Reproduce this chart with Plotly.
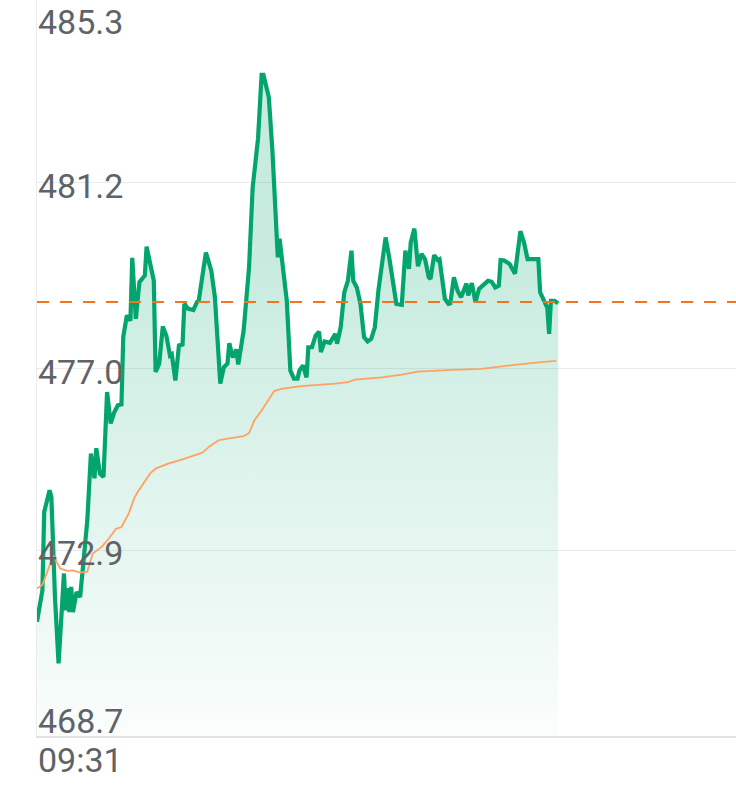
import plotly.graph_objects as go

# minutes after 09:31 and last price
price_minutes = [0, 3, 4, 7, 8, 10, 12, 15, 16, 17, 18, 19, 20, 22, 24, 26, 28, 30, 32, 33,
                 35, 37, 39, 41, 43, 45, 47, 48, 50, 52, 53, 55, 57, 60, 61, 65, 66, 68, 70, 72,
                 74, 75, 77, 79, 81, 82, 84, 87, 89, 90, 94, 97, 99, 102, 104, 106, 107, 109, 111, 112,
                 115, 118, 120, 123, 125, 126, 129, 131, 133, 134, 135, 137, 139, 141, 143, 145, 146, 148, 150, 151,
                 153, 155, 157, 158, 160, 163, 166, 167, 169, 171, 173, 175, 176, 178, 180, 182, 184, 186, 188, 190,
                 192, 194, 196, 198, 200, 203, 205, 207, 208, 210, 212, 214, 216, 218, 219, 221, 223, 224, 227, 229,
                 230, 232, 234, 236, 239, 240, 242, 244, 246, 248, 251, 253, 255, 257, 258, 260, 263, 266, 268, 269,
                 271, 273, 276, 279, 280, 282, 284, 285, 286, 288, 290]
prices = [471.28, 471.99, 473.76, 474.25, 474.10, 471.84, 470.34, 472.37, 471.54, 472.04, 471.50, 472.07, 471.50, 471.95, 471.84, 472.60, 473.57, 475.08, 474.52, 475.20,
          474.63, 474.55, 476.47, 475.76, 476.01, 476.17, 476.19, 477.71, 478.20, 478.08, 479.50, 478.12, 478.95, 479.10, 479.75, 478.98, 476.92, 477.11, 477.95, 477.74,
          477.29, 477.32, 476.73, 477.52, 477.54, 478.46, 478.35, 478.32, 478.50, 478.53, 479.62, 479.21, 478.61, 476.66, 477.03, 477.11, 477.57, 477.25, 477.43, 477.09,
          477.86, 479.28, 481.08, 482.19, 483.63, 483.63, 483.13, 481.92, 480.41, 479.51, 479.93, 479.28, 478.53, 476.95, 476.77, 476.77, 476.95, 477.07, 476.80, 477.48,
          477.48, 477.74, 477.83, 477.37, 477.61, 477.58, 477.78, 477.56, 477.93, 478.72, 478.98, 479.66, 478.98, 478.83, 478.46, 477.71, 477.61, 477.67, 477.93, 478.76,
          479.36, 479.96, 479.51, 478.98, 478.46, 478.44, 479.66, 479.25, 479.85, 480.16, 479.31, 479.59, 479.46, 479.06, 479.02, 479.56, 479.45, 479.47, 478.57, 478.46,
          478.47, 479.06, 478.76, 478.61, 478.92, 478.65, 478.93, 478.50, 478.80, 478.87, 478.98, 478.96, 478.83, 478.87, 479.45, 479.44, 479.36, 479.14, 479.77, 480.10,
          479.85, 479.47, 479.47, 479.47, 478.72, 478.53, 478.37, 477.78, 478.53, 478.53, 478.47]

avg_minutes = [0, 3, 6, 9, 13, 17, 20, 24, 28, 31, 36, 40, 44, 47, 51, 54, 56, 60, 63, 66,
               73, 81, 86, 92, 96, 101, 108, 115, 118, 121, 125, 129, 132, 136, 147, 166, 173, 177, 192, 203,
               212, 231, 247, 259, 272, 279, 289]
avg_prices = [472.03, 472.11, 472.44, 472.78, 472.48, 472.43, 472.44, 472.39, 472.41, 472.82, 472.97, 473.16, 473.38, 473.42, 473.72, 474.06, 474.21, 474.44, 474.63, 474.74,
              474.85, 474.95, 475.02, 475.10, 475.24, 475.38, 475.43, 475.47, 475.54, 475.83, 476.05, 476.32, 476.49, 476.54, 476.60, 476.66, 476.69, 476.75, 476.80, 476.86,
              476.93, 476.97, 476.99, 477.05, 477.11, 477.14, 477.17]

prev_close = 478.50
y_ticks = [468.7, 472.9, 477.0, 481.2, 485.3]
y_tick_labels = ["468.7", "472.9", "477.0", "481.2", "485.3"]
x_min, x_max = 0, 389
x_tick_label = "09:31"

GREEN = "#03a56d"
label_font = dict(family="Roboto", size=34, color="#5f6368")

fig = go.Figure()
fig.add_trace(go.Scatter(
    x=price_minutes, y=prices, mode="lines",
    line=dict(color=GREEN, width=4.2),
    fill="tozeroy",
    fillgradient=dict(type="vertical", start=y_ticks[0], stop=479.5,
                      colorscale=[[0, "rgba(0,166,110,0.02)"], [1, "rgba(0,166,110,0.22)"]]),
    hoverinfo="skip", showlegend=False,
))
fig.add_trace(go.Scatter(
    x=avg_minutes, y=avg_prices, mode="lines",
    line=dict(color="#ffa261", width=1.8),
    hoverinfo="skip", showlegend=False,
))
fig.add_shape(type="line", xref="paper", x0=0, x1=1, yref="y", y0=prev_close, y1=prev_close,
              line=dict(color="#f47321", width=2, dash="12px,11px"), layer="above")

annotations = []
for i, (v, t) in enumerate(zip(y_ticks, y_tick_labels)):
    if i == len(y_ticks) - 1:
        anchor, shift = "top", 0
    elif i == 0:
        anchor, shift = "bottom", -6
    else:
        anchor, shift = "middle", -3
    annotations.append(dict(x=0, xref="paper", xanchor="left", y=v, yref="y", yanchor=anchor,
                            yshift=shift, text=t, showarrow=False, font=label_font, borderpad=0))
annotations.append(dict(x=0, xref="paper", xanchor="left", y=-0.033, yref="paper", yanchor="middle",
                        text=x_tick_label, showarrow=False, font=label_font, borderpad=0))

fig.update_layout(
    width=736, height=808,
    margin=dict(l=37, r=0, t=1, b=72),
    paper_bgcolor="white", plot_bgcolor="white",
    annotations=annotations,
    xaxis=dict(range=[x_min, x_max], showgrid=False, zeroline=False, showticklabels=False,
               showline=True, linecolor="#e2e2e2", linewidth=1.5, fixedrange=True),
    yaxis=dict(range=[y_ticks[0], y_ticks[-1]], tickvals=y_ticks, showticklabels=False,
               showgrid=True, gridcolor="#ebebeb", gridwidth=1, zeroline=False,
               showline=True, linecolor="#ececec", linewidth=1, fixedrange=True),
)
fig.write_html("out.html", config={"displayModeBar": False},
               post_script="document.body.style.margin='0';document.body.style.padding='0';")
